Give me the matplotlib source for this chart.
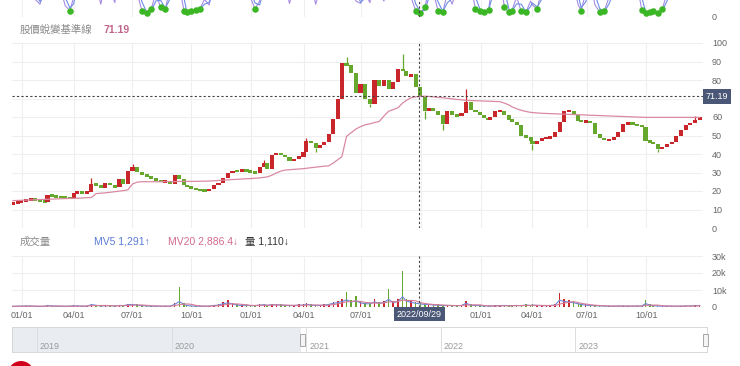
import numpy as np
import pandas as pd
import matplotlib
matplotlib.use("Agg")
import matplotlib.pyplot as plt
import matplotlib.transforms as mtransforms
from matplotlib.patches import Rectangle, Ellipse

plt.rcParams['font.family'] = ['Liberation Sans', 'Noto Sans CJK TC', 'DejaVu Sans']

# ---------------- data (weekly) ----------------
START = '2020-12-18'
END = '2023-12-22'
HOL = ['2021-01-01', '2021-02-08', '2021-02-09', '2021-02-10', '2021-02-11', '2021-02-12',
       '2021-02-15', '2021-02-16', '2021-03-01', '2021-04-02', '2021-04-05', '2021-06-14',
       '2021-09-20', '2021-09-21', '2021-10-11', '2021-12-31',
       '2022-01-27', '2022-01-28', '2022-01-31', '2022-02-01', '2022-02-02', '2022-02-03',
       '2022-02-04', '2022-02-28', '2022-04-04', '2022-04-05', '2022-05-02', '2022-06-03',
       '2022-09-09', '2022-10-10',
       '2023-01-02', '2023-01-18', '2023-01-19', '2023-01-20', '2023-01-23', '2023-01-24',
       '2023-01-25', '2023-01-26', '2023-01-27', '2023-02-27', '2023-02-28', '2023-04-03',
       '2023-04-04', '2023-04-05', '2023-05-01', '2023-06-22', '2023-06-23', '2023-09-29',
       '2023-10-09', '2023-10-10']

close_2020 = [13.5, 14.0]
close_2021 = [14.5, 15.2, 15.7, 15.3, 14.6, 14.2, 17.8, 17.2, 16.8, 16.5, 16.3, 16.0,
              19.0, 19.3, 19.0, 19.2, 24.0, 23.0, 21.6, 24.5, 23.0, 22.0, 26.5, 24.0, 31.0,
              33.0, 30.5, 28.5, 28.0, 26.5, 26.0, 25.0, 25.0, 24.0, 28.5, 26.5, 23.5, 22.0,
              21.5, 20.8, 20.5, 20.3, 21.0, 23.0, 24.5, 27.0, 29.5, 31.0, 30.5, 31.5, 30.5, 30.4]
close_2022 = [29.5, 33.0, 35.0, 32.0, 39.5, 40.5, 39.5, 38.5, 36.0, 37.5, 38.5,
              41.0, 47.0, 46.0, 43.0, 45.0, 46.5, 51.0, 59.0, 70.0, 89.0, 88.0, 84.0, 73.0,
              78.0, 70.0, 67.0, 80.0, 77.0, 80.0, 75.0, 79.0, 86.0, 85.0, 82.0, 83.0, 76.0, 71.0,
              63.0, 65.0, 63.5, 61.0, 56.0, 63.5, 61.0, 60.5, 62.0, 68.0, 64.0, 62.5, 61.0]
close_2023 = [59.5, 58.4, 60.0, 63.0, 63.5, 61.0, 58.4, 57.5, 55.5, 50.0, 49.0, 47.0,
              45.5, 47.0, 48.6, 48.6, 49.0, 52.0, 57.5, 63.0, 63.5, 61.0, 58.0, 57.5, 57.5,
              57.0, 51.0, 48.5, 47.6, 47.6, 49.0, 52.0, 56.0, 56.8, 56.0, 55.5, 54.8, 47.0,
              46.5, 45.5, 42.5, 44.0, 45.5, 46.5, 50.0, 53.0, 55.5, 57.0, 58.5, 60.0]

wick_hi_dates = ['2021-04-30', '2021-07-02', '2022-01-21', '2022-04-08', '2022-06-10',
                 '2022-09-02', '2022-12-09', '2023-12-15']
wick_hi_vals = [27.0, 34.5, 36.5, 48.6, 92.5, 94.0, 75.0, 60.5]
wick_lo_dates = ['2022-04-22', '2022-07-15', '2022-10-07', '2022-11-04', '2023-04-07', '2023-10-20']
wick_lo_vals = [41.0, 65.5, 59.0, 53.0, 42.0, 41.0]

base_2020 = [14.8, 14.9]
base_2021 = [15.0, 15.1, 15.2, 15.3, 15.4, 15.5, 15.5, 15.6, 15.7, 15.8, 15.9, 16.0,
             16.0, 16.1, 16.2, 16.3, 16.5, 18.6, 18.8, 19.0, 19.3, 19.6, 19.9, 20.2, 20.6,
             23.8, 24.8, 25.0, 25.0, 25.0, 25.0, 25.0, 25.1, 25.1, 25.1, 25.2, 25.2, 25.2,
             25.2, 25.2, 25.3, 25.3, 25.4, 25.5, 25.7, 25.9, 26.0, 26.2, 26.3, 26.5, 26.6, 26.7]
base_2022 = [26.9, 27.1, 27.4, 27.6, 28.5, 29.8, 30.8, 31.3, 31.5, 31.7, 31.9,
             32.1, 32.3, 32.6, 32.9, 33.2, 33.4, 33.6, 35.2, 37.0, 38.5, 49.5, 51.5, 53.5,
             54.8, 55.8, 56.3, 57.0, 57.6, 60.5, 63.1, 64.0, 65.0, 67.5, 69.0, 70.4, 70.9, 71.19,
             71.2, 71.1, 70.9, 70.6, 70.4, 70.1, 69.8, 69.5, 69.3, 69.0, 68.9, 68.8, 68.7]
base_2023 = [68.6, 68.5, 68.5, 68.4, 68.3, 67.5, 66.5, 65.5, 64.5, 63.6, 63.0, 62.5,
             62.4, 62.2, 62.0, 61.9, 61.8, 61.7, 61.6, 61.5, 61.4, 61.3, 61.2, 61.1, 61.0,
             61.0, 60.9, 60.8, 60.7, 60.6, 60.5, 60.4, 60.3, 60.2, 60.1, 60.0, 59.9, 59.8,
             59.8, 59.8, 59.8, 59.8, 59.8, 59.8, 59.8, 59.8, 59.8, 59.8, 59.8, 59.8]

k_2020 = [55, 60]
k_2021 = [55, 45, 40, 22, 16, 40, 70, 65, 50, 35, 14, 8,
          25, 55, 60, 50, 75, 40, 16, 45, 35, 18, 55, 40, 65,
          70, 30, 8, 5, 10, 30, 12, 10, 35, 60, 40, 8, 6,
          7, 9, 10, 22, 15, 45, 60, 75, 80, 70, 55, 60, 45, 25]
k_2022 = [10, 20, 55, 45, 70, 75, 60, 40, 17, 40, 50,
          60, 70, 40, 16, 35, 50, 60, 75, 85, 85, 70, 45, 20,
          17, 30, 18, 50, 30, 20, 40, 55, 70, 75, 50, 25, 8, 5,
          12, 35, 30, 8, 6, 30, 16, 35, 50, 70, 40, 10, 8]
k_2023 = [6, 9, 25, 50, 55, 12, 6, 8, 25, 7, 6, 20,
          15, 10, 35, 40, 45, 60, 75, 80, 65, 40, 15, 8, 30,
          40, 15, 6, 8, 25, 40, 55, 70, 65, 50, 40, 9, 5,
          6, 8, 5, 10, 30, 50, 65, 75, 80, 75, 70, 65]

vol_2020 = [0.5, 0.6]
vol_2021 = [0.6, 0.8, 0.7, 0.5, 0.4, 0.5, 1.2, 0.8, 0.6, 0.5, 0.5, 0.6,
            0.9, 0.7, 0.6, 0.6, 2.0, 1.2, 0.8, 0.9, 1.0, 0.8, 1.2, 1.0, 1.8,
            2.0, 1.5, 1.0, 0.8, 0.7, 0.7, 0.6, 0.6, 0.6, 2.5, 11.5, 2.5, 1.2,
            0.8, 0.6, 0.6, 0.6, 0.7, 1.2, 1.5, 3.0, 4.0, 2.5, 1.5, 1.2, 1.5, 1.0]
vol_2022 = [1.0, 1.5, 2.0, 1.2, 2.0, 1.8, 1.5, 1.2, 1.0, 1.2, 1.5,
            1.5, 2.5, 1.5, 1.2, 1.2, 1.5, 2.0, 3.0, 3.5, 4.5, 9.0, 4.0, 6.5,
            3.0, 2.5, 2.5, 4.5, 3.0, 3.5, 10.7, 3.5, 4.5, 21.0, 5.0, 4.0, 3.0, 2.5,
            2.0, 2.0, 1.5, 1.5, 1.2, 1.2, 1.0, 1.0, 1.2, 3.5, 1.5, 1.2, 1.0]
vol_2023 = [0.8, 0.8, 0.7, 0.9, 1.0, 1.2, 1.0, 1.0, 1.2, 1.0, 1.5, 1.2,
            1.5, 1.2, 1.0, 1.0, 1.2, 1.5, 8.5, 4.5, 4.0, 3.5, 2.5, 2.0, 1.5,
            1.2, 1.0, 0.8, 0.8, 0.7, 0.7, 0.8, 0.8, 0.7, 0.7, 0.8, 0.8, 4.0,
            1.5, 1.0, 0.8, 0.7, 0.6, 0.6, 0.6, 0.7, 0.8, 0.8, 1.0, 1.1]

mv5_2020 = [0.4, 0.5]
mv5_2021 = [0.5, 0.6, 0.6, 0.4, 0.3, 0.4, 0.9, 0.6, 0.5, 0.4, 0.4, 0.5,
            0.7, 0.6, 0.5, 0.5, 1.4, 1.0, 0.6, 0.7, 0.8, 0.6, 0.9, 0.8, 1.3,
            1.5, 1.1, 0.8, 0.6, 0.5, 0.5, 0.5, 0.5, 0.5, 1.5, 3.2, 1.6, 0.9,
            0.6, 0.5, 0.5, 0.5, 0.5, 0.9, 1.1, 2.0, 2.4, 1.8, 1.1, 0.9, 1.1, 0.8]
mv5_2022 = [0.8, 1.1, 1.4, 0.9, 1.4, 1.3, 1.1, 0.9, 0.8, 0.9, 1.1,
            1.1, 1.6, 1.1, 0.9, 0.9, 1.1, 1.5, 2.2, 2.6, 3.2, 4.2, 3.0, 3.6,
            2.4, 1.9, 1.9, 3.0, 2.2, 2.5, 4.5, 2.6, 3.2, 6.0, 3.5, 2.8, 2.2, 1.8,
            1.5, 1.5, 1.1, 1.1, 0.9, 0.9, 0.8, 0.8, 0.9, 2.2, 1.1, 0.9, 0.8]
mv5_2023 = [0.6, 0.6, 0.5, 0.7, 0.8, 0.9, 0.8, 0.8, 0.9, 0.8, 1.1, 0.9,
            1.1, 0.9, 0.8, 0.8, 0.9, 1.1, 4.0, 3.2, 2.9, 2.5, 1.8, 1.5, 1.1,
            0.9, 0.8, 0.6, 0.6, 0.5, 0.5, 0.6, 0.6, 0.5, 0.5, 0.6, 0.6, 2.0,
            1.1, 0.8, 0.6, 0.5, 0.5, 0.5, 0.5, 0.5, 0.6, 0.6, 0.8, 0.9]

CROSS_DATE = '2022-09-29'
CROSS_VALUE = 71.19
price_ticks = [0, 10, 20, 30, 40, 50, 60, 70, 80, 90, 100]
price_tick_labels = ['0', '10', '20', '30', '40', '50', '60', '', '80', '90', '100']
vol_ticks = [0, 10000, 20000, 30000]
vol_tick_labels = ['0', '10k', '20k', '30k']
years = [2019, 2020, 2021, 2022, 2023]

# ---------------- ordinal (trading day) axis ----------------
fridays = pd.date_range(START, END, freq='W-FRI')
week_end = []
for f in fridays:
    mon = (f - pd.Timedelta(days=4)).strftime('%Y-%m-%d')
    sat = (f + pd.Timedelta(days=1)).strftime('%Y-%m-%d')
    if np.busday_count(mon, sat, holidays=HOL) == 0:
        continue
    week_end.append(np.busday_offset(f.strftime('%Y-%m-%d'), 0, roll='backward', holidays=HOL))
x_all = np.array([np.busday_count(START, d, holidays=HOL) for d in week_end])

def tidx(d):
    return np.busday_count(START, np.busday_offset(d, 0, roll='forward', holidays=HOL), holidays=HOL)

close = np.array(close_2020 + close_2021 + close_2022 + close_2023, float)
base = np.array(base_2020 + base_2021 + base_2022 + base_2023, float)
kval = np.array(k_2020 + k_2021 + k_2022 + k_2023, float)
vol = np.array(vol_2020 + vol_2021 + vol_2022 + vol_2023, float) * 1000
mv5 = np.array(mv5_2020 + mv5_2021 + mv5_2022 + mv5_2023, float) * 1000
n = min(len(x_all), len(close), len(base), len(kval), len(vol), len(mv5))
x = x_all[:n]; close = close[:n]; base = base[:n]; kval = kval[:n]; vol = vol[:n]; mv5 = mv5[:n]
mv20 = pd.Series(mv5).rolling(4, min_periods=1).mean().values
dval = pd.Series(kval).rolling(2, min_periods=1).mean().values

opn = np.r_[close[0] - 0.4, close[:-1]]
RED, GREEN = '#c9262b', '#65a82d'
col = np.where(close >= opn, RED, GREEN)

qs = pd.date_range('2021-01-01', '2023-10-01', freq='QS')
qx = [tidx(q.strftime('%Y-%m-%d')) for q in qs]
qlab = ['' if q.strftime('%Y-%m-%d') == '2022-10-01' else q.strftime('%m/%d') for q in qs]
cross = tidx(CROSS_DATE)

# ---------------- figure ----------------
W, H = 740, 366
fig = plt.figure(figsize=(W / 100, H / 100), dpi=100)
fig.patch.set_facecolor('white')

def ax_px(l, t, r, b):
    return fig.add_axes([l / W, 1 - b / H, (r - l) / W, (b - t) / H])

XL = (-1.0, x[-1] + 3.5)
GRID = '#efefef'
TICKC = '#666666'
XH = '#444444'
DASH = (0, (2, 2))

def style(ax):
    for s in ax.spines.values():
        s.set_visible(False)
    ax.set_xlim(*XL)
    ax.set_xticks(qx)
    ax.tick_params(axis='x', length=0, labelbottom=False)
    ax.yaxis.tick_right()
    ax.tick_params(axis='y', length=0, pad=6.5, labelsize=6.5, labelcolor=TICKC)
    ax.grid(True, color=GRID, lw=0.8)
    ax.set_axisbelow(True)
    ax.set_facecolor('none')

# top oscillator panel (only its bottom is inside the picture)
ax_t = ax_px(12, -63, 703, 17)
style(ax_t)
ax_t.set_ylim(0, 100)
ax_t.set_yticks([0])
ax_t.set_yticklabels(['0'])
ax_t.plot(x, kval, color='#a48be4', lw=0.8, zorder=3)
ax_t.plot(x, dval, color='#6d8de6', lw=0.8, zorder=3)
m = kval <= 12
ax_t.scatter(x[m], kval[m], s=22, color='#3bb624', zorder=4, linewidths=0)
ax_t.axvline(cross, color=XH, lw=0.8, ls=DASH, zorder=5)

# price panel
ax_p = ax_px(12, 43, 703, 228)
style(ax_p)
ax_p.set_ylim(0, 100)
ax_p.set_yticks(price_ticks)
ax_p.set_yticklabels(price_tick_labels)
lo = np.minimum(opn, close)
hi = np.maximum(opn, close)
mid = (lo + hi) / 2
body = np.maximum(hi - lo, 1.4)
ax_p.bar(x, body, bottom=mid - body / 2, width=4.4, color=col, linewidth=0, zorder=3)
for d, v in zip(wick_hi_dates, wick_hi_vals):
    j = int(np.argmin(np.abs(x - tidx(d))))
    ax_p.vlines(x[j], hi[j], v, color=col[j], lw=0.9, zorder=3)
for d, v in zip(wick_lo_dates, wick_lo_vals):
    j = int(np.argmin(np.abs(x - tidx(d))))
    ax_p.vlines(x[j], v, lo[j], color=col[j], lw=0.9, zorder=3)
ax_p.plot(x, base, color='#d98aa1', lw=0.9, zorder=4)
ax_p.axvline(cross, color=XH, lw=0.8, ls=DASH, zorder=5)
ax_p.axhline(CROSS_VALUE, color=XH, lw=0.8, ls=DASH, zorder=5)
tr = mtransforms.blended_transform_factory(ax_p.transAxes, ax_p.transData)
ax_p.text(1.004, CROSS_VALUE, f'{CROSS_VALUE:.2f}', transform=tr, ha='left', va='center',
          fontsize=6.5, color='white', zorder=10, clip_on=False,
          bbox=dict(boxstyle='square,pad=0.3', fc='#4a5776', ec='none'))

# volume panel
ax_v = ax_px(12, 256, 703, 307)
style(ax_v)
ax_v.set_ylim(0, 30000)
ax_v.set_yticks(vol_ticks)
ax_v.set_yticklabels(vol_tick_labels)
ax_v.set_xticks(qx)
ax_v.set_xticklabels(qlab)
ax_v.tick_params(axis='x', labelbottom=True, pad=3, labelsize=6.5, labelcolor=TICKC)
ax_v.bar(x, vol, width=1.6, color=col, linewidth=0, zorder=3)
ax_v.plot(x, mv5, color='#6a87d8', lw=0.8, zorder=4)
ax_v.plot(x, mv20, color='#d77a98', lw=0.8, zorder=4)
ax_v.axvline(cross, color=XH, lw=0.8, ls=DASH, zorder=5)
trv = mtransforms.blended_transform_factory(ax_v.transData, ax_v.transAxes)
ax_v.text(cross, -0.14, pd.Timestamp(CROSS_DATE).strftime('%Y/%m/%d'), transform=trv,
          ha='center', va='center', fontsize=6.5, color='white', zorder=10, clip_on=False,
          bbox=dict(boxstyle='square,pad=0.3', fc='#4a5776', ec='none'))

# panel titles
def ftext(px, py, s, **kw):
    fig.text(px / W, 1 - py / H, s, va='center', ha='left', **kw)

ftext(20, 30, '股價蛻變基準線', fontsize=7.5, color='#8a8a8a')
ftext(103, 30, f'{CROSS_VALUE:.2f}', fontsize=7.5, color='#c0668c', fontweight='bold')
ftext(20, 242, '成交量', fontsize=7.5, color='#8a8a8a')
ftext(94, 242, 'MV5 1,291↑', fontsize=7.5, color='#5a7bd6')
ftext(168, 242, 'MV20 2,886.4↓', fontsize=7.5, color='#d26a8e')
ftext(245, 242, '量 1,110↓', fontsize=7.5, color='#333333')

# navigator
ax_n = ax_px(12, 327, 707, 352)
nav_l, nav_r = pd.Timestamp('2018-10-25'), pd.Timestamp('2023-12-24')
ax_n.set_xlim(nav_l, nav_r)
ax_n.set_ylim(0, 1)
ax_n.set_xticks([]); ax_n.set_yticks([])
ax_n.axvspan(nav_l, pd.Timestamp(START), color='#e9ecf0', lw=0)
for s in ax_n.spines.values():
    s.set_color('#d8d8d8'); s.set_linewidth(0.7)
for y in years:
    t = pd.Timestamp(f'{y}-01-01')
    ax_n.axvline(t, color='#dddddd', lw=0.7)
    ax_n.text(t + pd.Timedelta(days=8), 0.22, str(y), fontsize=6.5, color='#9a9a9a', va='center')
for hx in (302, 705):
    fig.patches.append(Rectangle(((hx - 2.5) / W, 1 - 346 / H), 5 / W, 12 / H,
                                 transform=fig.transFigure, fc='#f4f4f4', ec='#9a9a9a', lw=0.6))

# red badge at the bottom-left corner
fig.patches.append(Ellipse((21 / W, 1 - 374 / H), 26 / W, 26 / H, transform=fig.transFigure,
                           fc='#d0021b', ec='none'))

fig.savefig('out.png', dpi=100)
